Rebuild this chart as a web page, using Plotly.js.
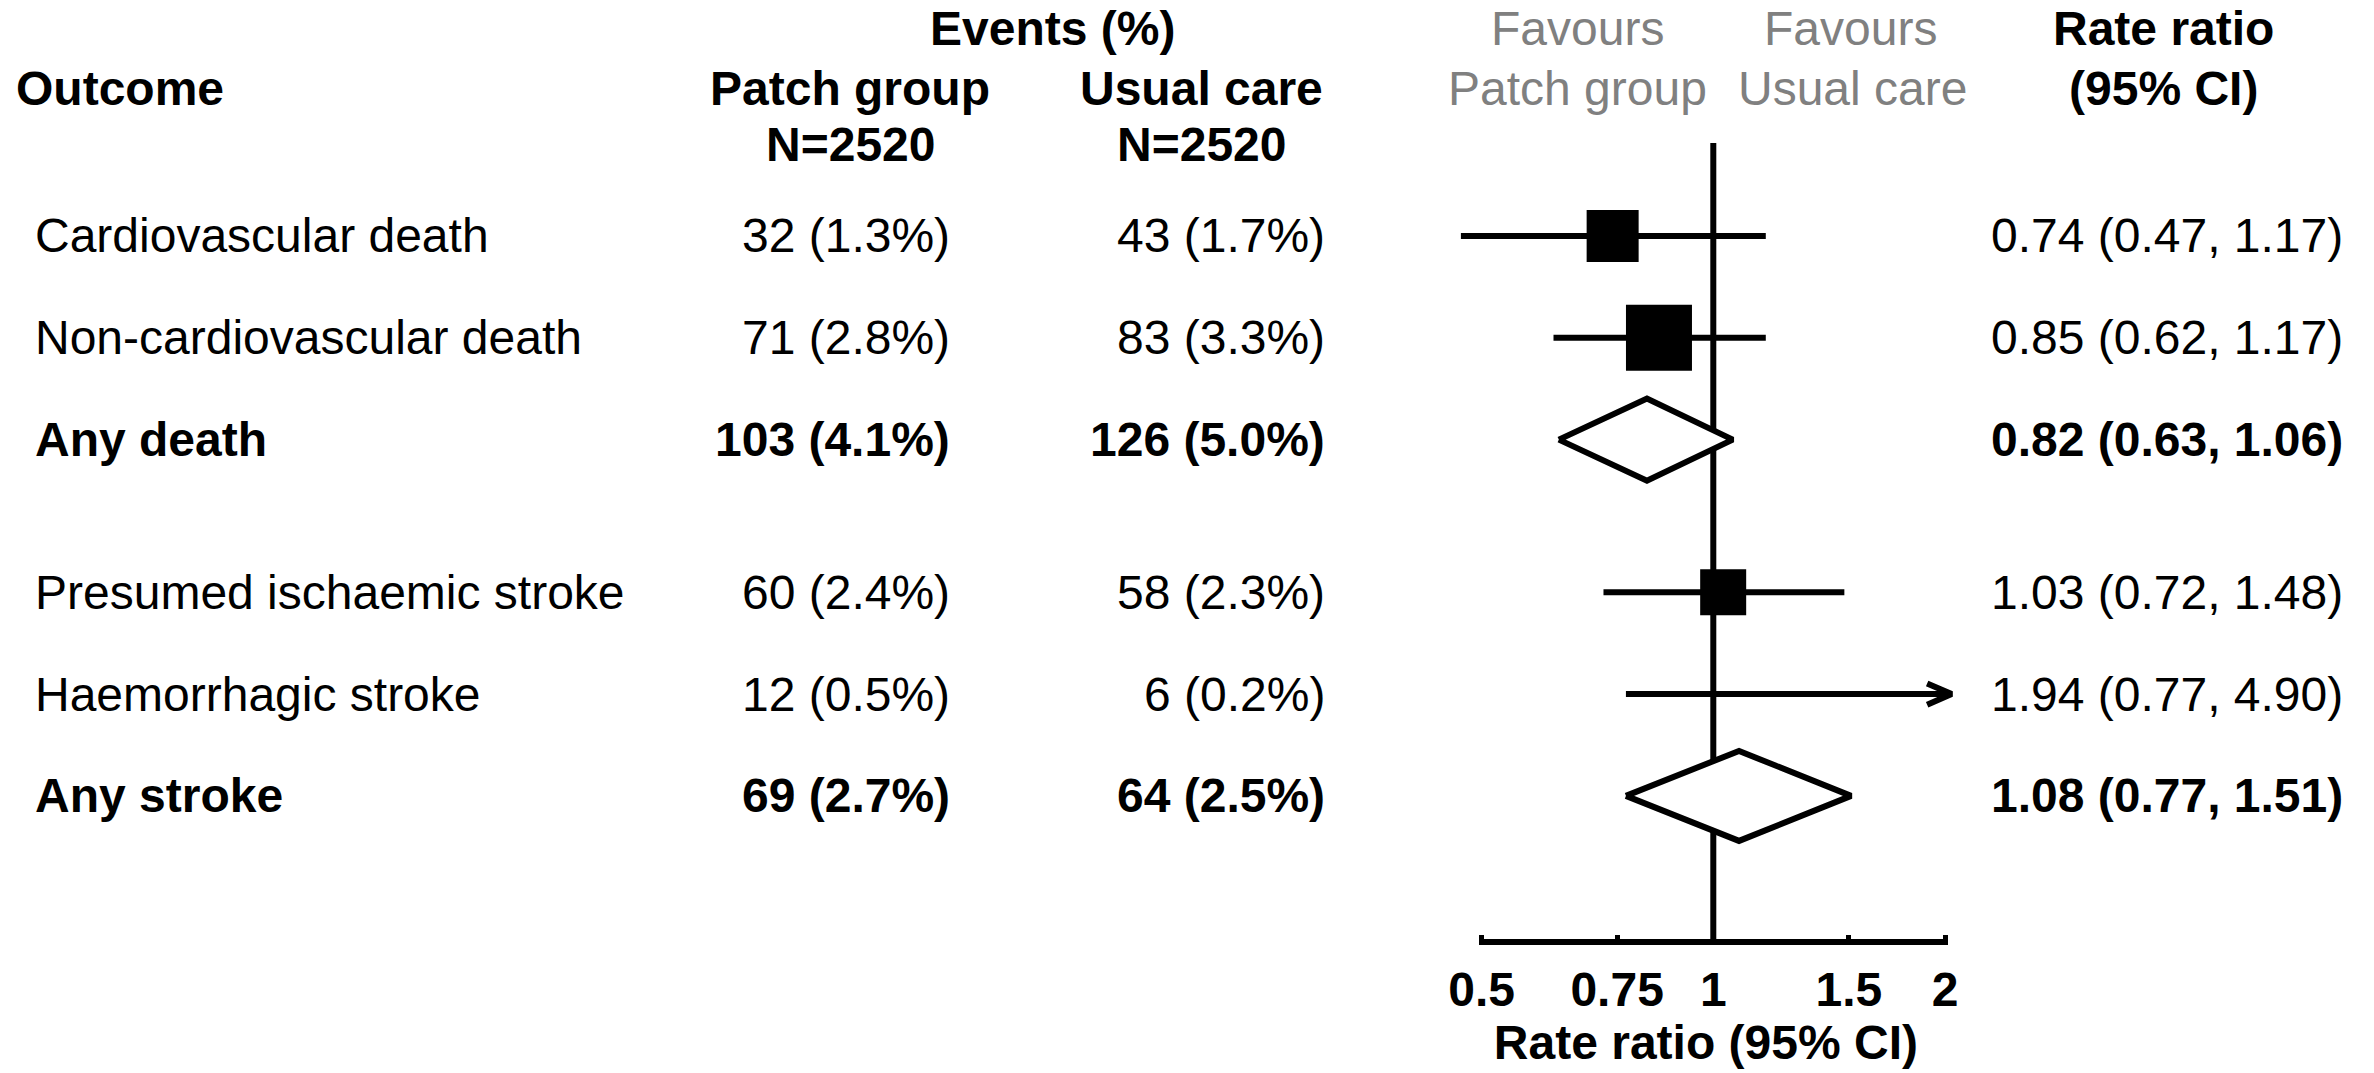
<!DOCTYPE html>
<html>
<head>
<meta charset="utf-8">
<script src="https://cdn.plot.ly/plotly-3.0.1.min.js"></script>
<style>
  html, body { margin: 0; padding: 0; background: #ffffff; }
  #chart { width: 2374px; height: 1073px; }
</style>
</head>
<body>
<div id="chart"></div>
<script>
// ---- Trial outcomes: events per arm and rate ratios ----
const outcomes = [
  'Cardiovascular death',
  'Non-cardiovascular death',
  'Any death',
  'Presumed ischaemic stroke',
  'Haemorrhagic stroke',
  'Any stroke'
];
const outcomeGroup = ['death', 'death', 'death', 'stroke', 'stroke', 'stroke'];
const isSummary = [false, false, true, false, false, true];

const patchEvents = [32, 71, 103, 60, 12, 69];
const patchPct    = [1.3, 2.8, 4.1, 2.4, 0.5, 2.7];
const usualEvents = [43, 83, 126, 58, 6, 64];
const usualPct    = [1.7, 3.3, 5.0, 2.3, 0.2, 2.5];

const rateRatio = [0.74, 0.85, 0.82, 1.03, 1.94, 1.08];
const ciLower   = [0.47, 0.62, 0.63, 0.72, 0.77, 0.77];
const ciUpper   = [1.17, 1.17, 1.06, 1.48, 4.90, 1.51];

const armNames = ['Patch group', 'Usual care'];
const armN     = [2520, 2520];

const tickValues = [0.5, 0.75, 1, 1.5, 2];
const tickLabels = ['0.5', '0.75', '1', '1.5', '2'];

// ---- Drawing styles ----
const W = 2374, H = 1073;
const FONT = 'Liberation Sans, Arial, Helvetica, sans-serif';
const FS = 48;
const GREY = '#808080';
const INK = '#000000';
const ROW_PX = 101.8;                 // pixel height of one table row
const boxPx = [52, 66, 0, 46, 0, 0];  // study squares (px), 0 = no square
const diamondHalfPx = [0, 0, 41, 0, 0, 45];
const LINE_W = 6;
const X_PX_PER_LN = 334.3;            // horizontal scale of the log axis
const AXIS_CLIP = 2.04;               // CIs beyond this end in an arrow
const Y_TOP = -0.9136, Y_BOTTOM = 6.9646, BASELINE_Y = 6.935;

// Row positions: one unit per outcome, an extra half row between groups
const rowY = [];
outcomes.forEach((_, i) => {
  if (i === 0) rowY.push(0);
  else rowY.push(rowY[i - 1] + (outcomeGroup[i] !== outcomeGroup[i - 1] ? 1.5 : 1));
});

const traces = [];

// Line of no effect
traces.push({
  x: [1, 1], y: [Y_TOP, BASELINE_Y], mode: 'lines',
  line: { color: INK, width: LINE_W }, hoverinfo: 'skip'
});

// Axis baseline spanning the labelled ticks
traces.push({
  x: [tickValues[0], tickValues[tickValues.length - 1]], y: [BASELINE_Y, BASELINE_Y],
  mode: 'lines', line: { color: INK, width: LINE_W }, hoverinfo: 'skip'
});

// Confidence intervals for individual outcomes
outcomes.forEach((name, i) => {
  if (isSummary[i]) return;
  const hi = Math.min(ciUpper[i], AXIS_CLIP);
  traces.push({
    x: [ciLower[i], hi], y: [rowY[i], rowY[i]], mode: 'lines',
    line: { color: INK, width: LINE_W }, name: name, hoverinfo: 'skip'
  });
  if (ciUpper[i] > AXIS_CLIP) {
    const back = hi * Math.exp(-24.5 / X_PX_PER_LN);
    const dy = 10.7 / ROW_PX;
    traces.push({
      x: [back, hi, back], y: [rowY[i] - dy, rowY[i], rowY[i] + dy], mode: 'lines',
      line: { color: INK, width: LINE_W }, hoverinfo: 'skip'
    });
  }
});

// Point estimates as squares
const sqIdx = outcomes.map((_, i) => i).filter(i => !isSummary[i] && boxPx[i] > 0);
traces.push({
  x: sqIdx.map(i => rateRatio[i]), y: sqIdx.map(i => rowY[i]),
  mode: 'markers', cliponaxis: false,
  marker: { symbol: 'square', color: INK, opacity: 1, size: sqIdx.map(i => boxPx[i]), line: { width: 0 } },
  text: sqIdx.map(i => outcomes[i]), hoverinfo: 'text+x'
});

// Pooled estimates as diamonds
outcomes.forEach((name, i) => {
  if (!isSummary[i]) return;
  const h = diamondHalfPx[i] / ROW_PX;
  const r = rowY[i];
  traces.push({
    x: [ciLower[i], rateRatio[i], ciUpper[i], rateRatio[i], ciLower[i]],
    y: [r, r - h, r, r + h, r],
    mode: 'lines', fill: 'toself', fillcolor: '#ffffff',
    line: { color: INK, width: LINE_W }, name: name, hoverinfo: 'skip'
  });
});

// ---- Table text ----
const annotations = [];
function place(text, px, yPos, yref, anchor, opts) {
  opts = opts || {};
  annotations.push({
    text: text, xref: 'paper', x: px / W, yref: yref, y: yPos,
    xanchor: anchor, yanchor: 'middle', showarrow: false,
    font: { family: FONT, size: FS, color: opts.color || INK, weight: opts.bold ? 'bold' : 'normal' }
  });
}
// header lines sit above the plotting area, placed by pixel row
const header = (text, px, py, anchor, opts) => place(text, px, 1 - py / H, 'paper', anchor, opts);
const cell = (text, px, row, anchor, opts) => place(text, px, row, 'y', anchor, opts);

const HDR1 = 29, HDR2 = 88, HDR3 = 145;
header('Events (%)', 1052, HDR1, 'center', { bold: true });
header('Outcome', 14, HDR2, 'left', { bold: true });
header(armNames[0], 850, HDR2, 'center', { bold: true });
header(armNames[1], 1202, HDR2, 'center', { bold: true });
header('N=' + armN[0], 850, HDR3, 'center', { bold: true });
header('N=' + armN[1], 1202, HDR3, 'center', { bold: true });
header('Favours', 1577, HDR1, 'center', { color: GREY });
header(armNames[0], 1577, HDR2, 'center', { color: GREY });
header('Favours', 1850, HDR1, 'center', { color: GREY });
header(armNames[1], 1852, HDR2, 'center', { color: GREY });
header('Rate ratio', 2163, HDR1, 'center', { bold: true });
header('(95% CI)', 2163, HDR2, 'center', { bold: true });

outcomes.forEach((name, i) => {
  const b = { bold: isSummary[i] };
  cell(name, 33, rowY[i], 'left', b);
  cell(patchEvents[i] + ' (' + patchPct[i].toFixed(1) + '%)', 952, rowY[i], 'right', b);
  cell(usualEvents[i] + ' (' + usualPct[i].toFixed(1) + '%)', 1327, rowY[i], 'right', b);
  cell(rateRatio[i].toFixed(2) + ' (' + ciLower[i].toFixed(2) + ', ' + ciUpper[i].toFixed(2) + ')',
       2345, rowY[i], 'right', b);
});

const layout = {
  width: W, height: H,
  margin: { l: 0, r: 0, t: 0, b: 0, pad: 0 },
  paper_bgcolor: '#ffffff', plot_bgcolor: 'rgba(0,0,0,0)',
  showlegend: false,
  font: { family: FONT, size: FS, color: INK },
  xaxis: {
    type: 'log',
    range: [Math.log10(0.46), Math.log10(2.08)],
    domain: [0.612346, 0.824823],
    tickmode: 'array', tickvals: tickValues, ticktext: tickLabels,
    ticks: 'inside', ticklen: 10, tickwidth: 5, tickcolor: INK,
    showline: false, showgrid: false, zeroline: false,
    tickfont: { family: FONT, size: FS, color: INK, weight: 'bold' },
    ticklabelstandoff: 12,
    title: { text: 'Rate ratio (95% CI)', font: { family: FONT, size: FS, color: INK, weight: 'bold' }, standoff: 9 },
    fixedrange: true
  },
  yaxis: {
    range: [Y_BOTTOM, Y_TOP], domain: [0.11929, 0.86673],
    visible: false, showgrid: false, zeroline: false, fixedrange: true
  },
  annotations: annotations
};

Plotly.newPlot('chart', traces, layout, { displayModeBar: false, staticPlot: true });
</script>
</body>
</html>
